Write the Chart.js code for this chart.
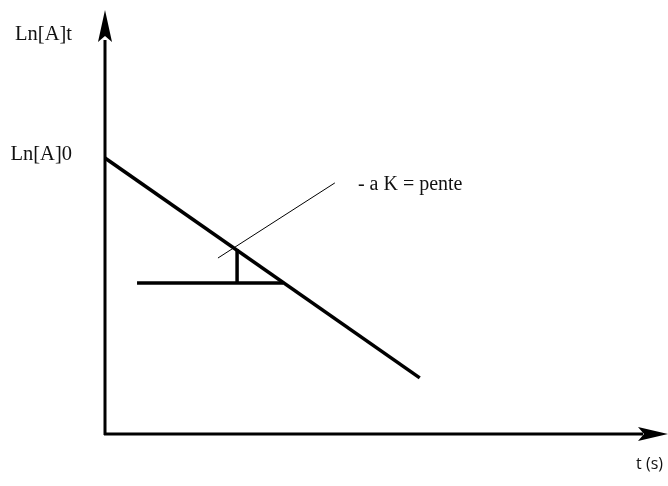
<!DOCTYPE html>
<html>
<head>
<meta charset="utf-8">
<script src="https://cdn.jsdelivr.net/npm/chart.js@4/dist/chart.umd.min.js"></script>
<style>
  html, body { margin: 0; padding: 0; background: #fff; }
  canvas { display: block; }
</style>
</head>
<body>
<canvas id="kinChart" width="668" height="486"></canvas>
<script>
(function(){
  'use strict';

  // droite ln[A] = f(t), ordre 1
  const droiteT = [0, 5.6];
  const droiteLn = [6.54, 1.33];

  // triangle de la pente
  const paliersT = [0.57, 3.17];
  const paliersLn = [3.58, 3.58];
  const hauteurT = [2.35, 2.35];
  const hauteurLn = [3.58, 4.38];

  // trait de rappel vers l'annotation
  const rappelT = [2.01, 4.09];
  const rappelLn = [4.17, 5.95];

  // textes des axes
  const yLabels = ['Ln[A]t', 'Ln[A]0'];
  const yLabelValues = [9.46, 6.61];
  const xLabel = 't (s)';
  const noteText = '- a K = pente';
  const notePos = [4.5, 5.95];

  const pts = (xs, ys) => xs.map((x, i) => ({ x: x, y: ys[i] }));

  const seg = (xs, ys, w) => ({
    data: pts(xs, ys),
    showLine: true,
    borderColor: '#000',
    borderWidth: w,
    borderCapStyle: 'butt',
    pointRadius: 0,
    fill: false
  });

  // axes fléchés + textes
  const axesPlugin = {
    id: 'axesFleches',
    beforeDatasetsDraw(chart) {
      const ctx = chart.ctx;
      const xs = chart.scales.x, ys = chart.scales.y;
      const x0 = xs.getPixelForValue(0), y0 = ys.getPixelForValue(0);
      const xEnd = xs.getPixelForValue(10), yEnd = ys.getPixelForValue(10);

      ctx.save();
      ctx.strokeStyle = '#000';
      ctx.fillStyle = '#000';
      ctx.lineWidth = 3;
      ctx.beginPath();
      ctx.moveTo(x0, y0 + 1);
      ctx.lineTo(x0, yEnd + 28);
      ctx.moveTo(x0 - 1, y0);
      ctx.lineTo(xEnd - 24, y0);
      ctx.stroke();

      // pointe verticale
      ctx.beginPath();
      ctx.moveTo(x0, yEnd - 2);
      ctx.lineTo(x0 + 7, yEnd + 30);
      ctx.lineTo(x0, yEnd + 24);
      ctx.lineTo(x0 - 7, yEnd + 30);
      ctx.closePath();
      ctx.fill();

      // pointe horizontale
      ctx.beginPath();
      ctx.moveTo(xEnd + 1, y0);
      ctx.lineTo(xEnd - 29, y0 - 7);
      ctx.lineTo(xEnd - 23, y0);
      ctx.lineTo(xEnd - 29, y0 + 7);
      ctx.closePath();
      ctx.fill();

      ctx.fillStyle = '#111';
      ctx.font = '20.5px "Liberation Serif", serif';
      ctx.textAlign = 'right';
      ctx.textBaseline = 'middle';
      yLabels.forEach((t, i) => {
        ctx.fillText(t, x0 - 33, ys.getPixelForValue(yLabelValues[i]));
      });

      ctx.textAlign = 'left';
      ctx.textBaseline = 'alphabetic';
      ctx.font = '20px "Liberation Serif", serif';
      ctx.fillText(noteText, xs.getPixelForValue(notePos[0]), ys.getPixelForValue(notePos[1]) + 7);

      ctx.font = '16px "Open Sans", sans-serif';
      ctx.textAlign = 'right';
      ctx.textBaseline = 'middle';
      ctx.fillText(xLabel, xEnd - 4, y0 + 30);
      ctx.restore();
    }
  };

  function initKinChart(){
    try {
      if (typeof Chart === 'undefined') {
        console.warn('Chart.js non chargé');
        return;
      }
      const el = document.getElementById('kinChart');
      if (!el) return;

      new Chart(el.getContext('2d'), {
        type: 'scatter',
        data: {
          datasets: [
            seg(droiteT, droiteLn, 3.5),
            seg(paliersT, paliersLn, 3.5),
            seg(hauteurT, hauteurLn, 3.5),
            seg(rappelT, rappelLn, 1)
          ]
        },
        options: {
          responsive: false,
          animation: false,
          layout: { padding: { left: 105, right: 1, top: 12, bottom: 52 } },
          plugins: {
            legend: { display: false },
            tooltip: { enabled: false }
          },
          scales: {
            x: { type: 'linear', min: 0, max: 10, display: false },
            y: { type: 'linear', min: 0, max: 10, display: false }
          }
        },
        plugins: [axesPlugin]
      });
    } catch (err) {
      console.error('Erreur kinChart:', err);
    }
  }

  if (document.readyState === 'loading') {
    document.addEventListener('DOMContentLoaded', initKinChart);
  } else {
    initKinChart();
  }
})();
</script>
</body>
</html>
